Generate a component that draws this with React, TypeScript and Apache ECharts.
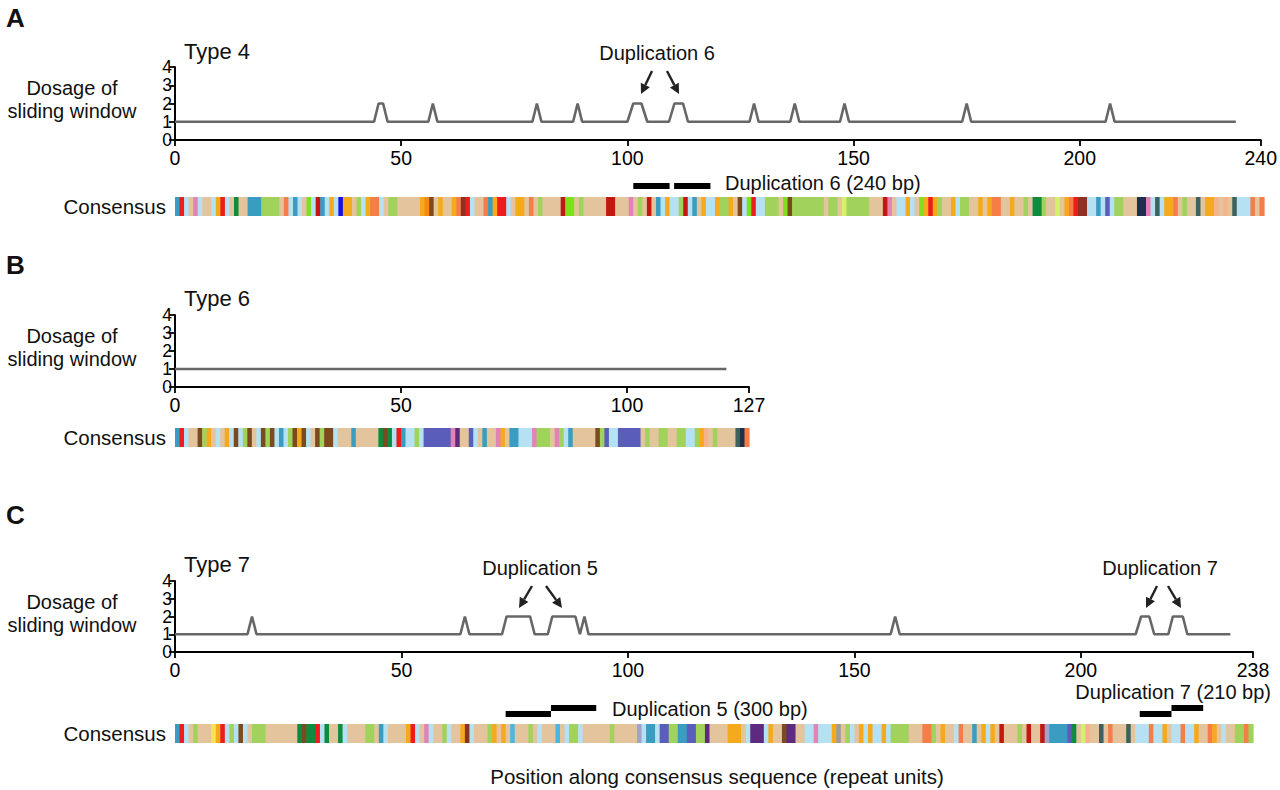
import React, { useEffect, useRef } from "react";
import * as echarts from "echarts";

const FONT = '"Liberation Sans", Arial, Helvetica, sans-serif';

// ---------- palette of repeat-unit classes ----------
const PALETTE: Record<string, string> = {
  T: "#3a9cc0", R: "#ee1c1c", L: "#b5e1f3", E: "#e3c49d", P: "#e283b5",
  O: "#f5aa1e", G: "#a1d25b", D: "#0f8b3f", S: "#f57d47", M: "#7fe11d",
  K: "#c3180f", B: "#1510e6", N: "#7c4a1f", Q: "#f38b12", W: "#8d3222",
  X: "#3d625c", Y: "#1f2f4e", I: "#5a5db9", U: "#5d2a80", Z: "#f7e25a",
  H: "#d3f06f", A: "#9b9b9b", F: "#f5b28c", V: "#a1a2cd", C: "#4cb6e1",
};

// ---------- tick labels ----------
const ticksA = [0, 50, 100, 150, 200, 240];
const ticksB = [0, 50, 100, 127];
const ticksC = [0, 50, 100, 150, 200, 238];
const dosageTicks = ["0", "1", "2", "3", "4"];

// ---------- dosage of sliding window ----------
const dosageA: [number, number][] = [
  [0, 1], [44, 1], [45, 2], [46, 2], [47, 1], [56, 1], [57, 2], [58, 1],
  [79, 1], [80, 2], [81, 1], [88, 1], [89, 2], [90, 1], [100, 1], [101.3, 2],
  [103.1, 2], [104.4, 1], [109.2, 1], [110.4, 2], [112.3, 2], [113.4, 1],
  [127, 1], [128, 2], [129, 1], [136, 1], [137, 2], [138, 1], [147, 1],
  [148, 2], [149, 1], [174, 1], [175, 2], [176, 1], [205.7, 1], [206.7, 2],
  [207.7, 1], [234.5, 1],
];
const dosageB: [number, number][] = [[0, 1], [122, 1]];
const dosageC: [number, number][] = [
  [0, 1], [16, 1], [17, 2], [18, 1], [63, 1], [64, 2], [65, 1], [72.2, 1],
  [73.2, 2], [78.4, 2], [79.4, 1], [82.3, 1], [83.3, 2], [88.4, 2], [89.4, 1],
  [90.4, 2], [91.3, 1], [158, 1], [159, 2], [160, 1], [212.1, 1], [213.3, 2],
  [215.1, 2], [216.2, 1], [219.3, 1], [220.3, 2], [222.5, 2], [223.5, 1],
  [233, 1],
];

// ---------- duplications: [start, end, level] ----------
const dupA: [number, number, number][] = [[101, 109, 0], [110, 118, 0]];
const dupC: [number, number, number][] = [
  [73, 83, 0], [83, 93, 1], [213, 220, 0], [220, 227, 1],
];

// ---------- consensus sequences (one letter per repeat unit) ----------
const consensusA =
  "TRLEPLEELO" + "RLEDEETTTG" + "GGGESLTLEM" + "LKTLOLBOOE" + "GLOSSLEGGE" +
  "EEEEOQNEOE" + "EOSWRLEEST" + "ORRLEOOESE" + "GEEEEKMMEG" + "EEEEEKKEEE" +
  "PEGEKETLOL" + "LGKLTEOLLO" + "GGOENLMRLL" + "GGGEMNGGGG" + "GGGEGGEHGG" +
  "GGGEEEKPEL" + "LOLEMOROGE" + "EOLGGEEOEO" + "SSEEOEEGED" + "DGEEHEOSRW" +
  "WLLTLILGGE" + "EEYYPLXLOO" + "SEGEEXEOOF" + "EFEXLLLSES";
const consensusB =
  "TRLEENGOEL" + "EOLNLGNELN" + "GNLTLGNONL" + "ENGNNLEEET" + "EEEEEDNDLR" +
  "TLLGLIIIII" + "IPUEEILETE" + "EPOETTLLLP" + "GGGEPGLTEE" + "EEENGILLII" +
  "IIIEGEEGGE" + "EGGLLGOFEG" + "EEEEXYS";
const consensusC =
  "TRLEGEEEZO" + "RLGLNLEGGG" + "EEEEEEEDND" + "DRLDEEDLEE" + "EEGGETLEEE" +
  "EORLEPLEEG" + "LEEOWLEEEG" + "OEOECEEEGE" + "LEEECELGGL" + "EEEEEEGEEE" +
  "EEVLTTLIIG" + "GTTIIGGUEE" + "EEOOOELUUU" + "LOEENUUEEL" + "LPLLLOAEGL" +
  "EOLOLLOLGG" + "GGEEESSGEO" + "EELSEETEOL" + "OEKEEEGEKE" + "EKVTTTTIDE" +
  "HFEEXESEEE" + "XELLLSLLOE" + "LLSLLOEESO" + "ELEEGGSG";

function toRuns(seq: string) {
  const out: any[] = [];
  let start = 0;
  for (let i = 1; i <= seq.length; i++) {
    if (i === seq.length || seq[i] !== seq[start]) {
      out.push({ value: [start, i, 0], itemStyle: { color: PALETTE[seq[start]] } });
      start = i;
    }
  }
  return out;
}

const rectRender = (_p: any, api: any) => {
  const a = api.coord([api.value(0), 1]);
  const b = api.coord([api.value(1), 0]);
  return {
    type: "rect",
    shape: { x: a[0], y: a[1], width: b[0] - a[0] + 0.6, height: b[1] - a[1] },
    style: { fill: api.visual("color") },
  };
};
const dupRender = (_p: any, api: any) => {
  const lv = api.value(2);
  const a = api.coord([api.value(0), lv + 1]);
  const b = api.coord([api.value(1), lv]);
  return {
    type: "rect",
    shape: { x: a[0], y: a[1], width: b[0] - a[0], height: b[1] - a[1] },
    style: { fill: "#000" },
  };
};

function txt(text: string, x: number, y: number, size: number, align = "left", bold = false) {
  return {
    type: "text",
    x,
    y,
    style: {
      text,
      fill: "#111",
      fontSize: size,
      fontFamily: FONT,
      fontWeight: bold ? "bold" : "normal",
      align,
      verticalAlign: "middle",
      textAlign: align,
      textVerticalAlign: "middle",
    },
  };
}

function arrow(x1: number, y1: number, x2: number, y2: number) {
  const dx = x2 - x1, dy = y2 - y1;
  const len = Math.sqrt(dx * dx + dy * dy);
  const ux = dx / len, uy = dy / len;
  const nx = -uy, ny = ux;
  const hl = 10, hw = 5;
  const bx = x2 - ux * hl, by = y2 - uy * hl;
  return [
    { type: "line", shape: { x1, y1, x2: bx, y2: by }, style: { stroke: "#222", lineWidth: 2.4 } },
    {
      type: "polygon",
      shape: { points: [[x2, y2], [bx + nx * hw, by + ny * hw], [bx - nx * hw, by - ny * hw]] },
      style: { fill: "#222" },
    },
  ];
}

const L0 = 175;
const WA = 1089, WB = 574, WC = 1078;

function lineXAxis(grid: number, max: number, ticks: number[]) {
  return {
    type: "value", gridIndex: grid, min: 0, max, interval: 50,
    axisLine: { show: true, lineStyle: { color: "#000", width: 2 } },
    axisTick: { show: true, length: 6, lineStyle: { color: "#000", width: 1.8 }, customValues: ticks },
    axisLabel: { fontSize: 19.5, color: "#000", fontFamily: FONT, margin: 8, customValues: ticks, showMinLabel: true, showMaxLabel: true },
    splitLine: { show: false },
  };
}
function hiddenX(grid: number, max: number) {
  return { type: "value", gridIndex: grid, min: 0, max, show: false, splitLine: { show: false } };
}
function dosageY(grid: number) {
  return {
    type: "category", gridIndex: grid, data: dosageTicks, boundaryGap: false,
    axisLine: { show: true, lineStyle: { color: "#000", width: 2 } },
    axisTick: { show: true, length: 6, interval: 0, lineStyle: { color: "#000", width: 1.8 } },
    axisLabel: {
      interval: 0, fontSize: 17.5, lineHeight: 16, color: "#000", fontFamily: FONT, margin: 3,
      showMinLabel: true, showMaxLabel: true, hideOverlap: false,
    },
    splitLine: { show: false },
  };
}
function hiddenY(grid: number, max: number) {
  return { type: "value", gridIndex: grid, min: 0, max, show: false, splitLine: { show: false } };
}

export default function App() {
  const ref = useRef<HTMLDivElement>(null);
  useEffect(() => {
    document.body.style.margin = "0";
    if (!ref.current) return;
    const chart = echarts.init(ref.current, null, { renderer: "svg" });
    const lineStyle = { color: "#676767", width: 2.6 };
    const option: any = {
      animation: false,
      backgroundColor: "#fff",
      grid: [
        { left: L0, top: 67, width: WA, height: 73 },   // 0 A dosage
        { left: L0, top: 183, width: WA, height: 6 },   // 1 A dup
        { left: L0, top: 197, width: WA, height: 19 },  // 2 A consensus
        { left: L0, top: 315, width: WB, height: 72 },  // 3 B dosage
        { left: L0, top: 428, width: WB, height: 19 },  // 4 B consensus
        { left: L0, top: 581, width: WC, height: 71 },  // 5 C dosage
        { left: L0, top: 705, width: WC, height: 12 },  // 6 C dup
        { left: L0, top: 724, width: WC, height: 19 },  // 7 C consensus
      ],
      xAxis: [
        lineXAxis(0, 240, ticksA), hiddenX(1, 240), hiddenX(2, 240),
        lineXAxis(3, 127, ticksB), hiddenX(4, 127),
        lineXAxis(5, 238, ticksC), hiddenX(6, 238), hiddenX(7, 238),
      ],
      yAxis: [
        dosageY(0), hiddenY(1, 1), hiddenY(2, 1),
        dosageY(3), hiddenY(4, 1),
        dosageY(5), hiddenY(6, 2), hiddenY(7, 1),
      ],
      series: [
        { type: "line", xAxisIndex: 0, yAxisIndex: 0, data: dosageA, showSymbol: false, symbol: "none", lineStyle },
        { type: "custom", xAxisIndex: 1, yAxisIndex: 1, data: dupA, renderItem: dupRender, encode: { x: [0, 1], y: 2 } },
        { type: "custom", xAxisIndex: 2, yAxisIndex: 2, data: toRuns(consensusA), renderItem: rectRender, encode: { x: [0, 1], y: 2 } },
        { type: "line", xAxisIndex: 3, yAxisIndex: 3, data: dosageB, showSymbol: false, symbol: "none", lineStyle },
        { type: "custom", xAxisIndex: 4, yAxisIndex: 4, data: toRuns(consensusB), renderItem: rectRender, encode: { x: [0, 1], y: 2 } },
        { type: "line", xAxisIndex: 5, yAxisIndex: 5, data: dosageC, showSymbol: false, symbol: "none", lineStyle },
        { type: "custom", xAxisIndex: 6, yAxisIndex: 6, data: dupC, renderItem: dupRender, encode: { x: [0, 1], y: 2 } },
        { type: "custom", xAxisIndex: 7, yAxisIndex: 7, data: toRuns(consensusC), renderItem: rectRender, encode: { x: [0, 1], y: 2 } },
      ],
      graphic: [
        txt("A", 6, 18, 26, "left", true),
        txt("B", 6, 265, 26, "left", true),
        txt("C", 6, 515, 26, "left", true),
        txt("Type 4", 184, 51, 22),
        txt("Type 6", 184, 298, 22),
        txt("Type 7", 184, 564, 22),
        txt("Dosage of", 72, 88, 20, "center"),
        txt("sliding window", 72, 111, 20, "center"),
        txt("Dosage of", 72, 336, 20, "center"),
        txt("sliding window", 72, 359, 20, "center"),
        txt("Dosage of", 72, 602, 20, "center"),
        txt("sliding window", 72, 625, 20, "center"),
        txt("Consensus", 166, 206, 20.5, "right"),
        txt("Consensus", 166, 437, 20.5, "right"),
        txt("Consensus", 166, 733, 20.5, "right"),
        txt("Duplication 6", 657, 53, 20, "center"),
        txt("Duplication 6 (240 bp)", 725, 183, 20, "left"),
        txt("Duplication 5", 540, 568, 20, "center"),
        txt("Duplication 5 (300 bp)", 612, 709, 20, "left"),
        txt("Duplication 7", 1160, 568, 20, "center"),
        txt("Duplication 7 (210 bp)", 1271, 692, 20, "right"),
        txt("Position along consensus sequence (repeat units)", 717, 776, 20.5, "center"),
        ...arrow(652, 71, 641, 94),
        ...arrow(667, 71, 679, 94),
        ...arrow(532, 586, 519, 608),
        ...arrow(546, 586, 562, 608),
        ...arrow(1157, 586, 1146, 608),
        ...arrow(1168, 586, 1181, 608),
      ],
    };
    chart.setOption(option);
    return () => chart.dispose();
  }, []);
  return (
    <div
      ref={ref}
      style={{ position: "absolute", left: 0, top: 0, width: 1280, height: 790, background: "#fff" }}
    />
  );
}
